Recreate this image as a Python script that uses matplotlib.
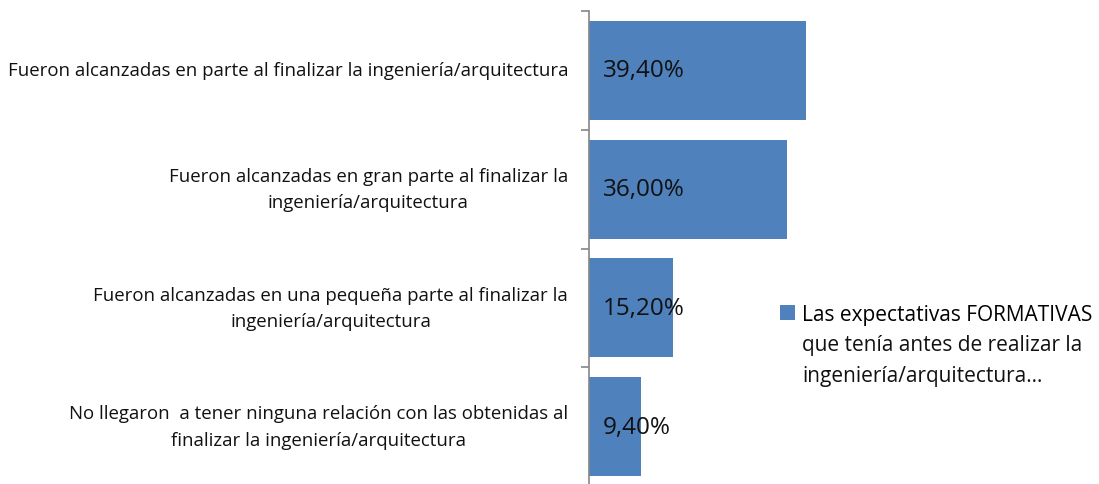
import matplotlib.pyplot as plt

# ── data ──
categorias = [
    'Fueron alcanzadas en parte al finalizar la ingeniería/arquitectura',
    'Fueron alcanzadas en gran parte al finalizar la\ningeniería/arquitectura',
    'Fueron alcanzadas en una pequeña parte al finalizar la\ningeniería/arquitectura',
    'No llegaron  a tener ninguna relación con las obtenidas al\nfinalizar la ingeniería/arquitectura',
]
valores = [39.4, 36.0, 15.2, 9.4]
etiquetas = ['39,40%', '36,00%', '15,20%', '9,40%']
serie = ['Las expectativas FORMATIVAS',
         'que tenía antes de realizar la',
         'ingeniería/arquitectura…']

plt.rcParams['font.family'] = ['Open Sans', 'DejaVu Sans']

fig = plt.figure(figsize=(10.99, 4.85), dpi=100)
ax = fig.add_axes([589 / 1099, -2 / 485, 248 / 1099, 475 / 485])

pos = list(range(len(valores)))
bars = ax.barh(pos, valores, height=0.834, color='#4F81BD', label=serie[0])
ax.set_ylim(len(valores) - 0.5, -0.5)
ax.set_xlim(0, 45)

for b, t in zip(bars, etiquetas):
    ax.text(2.5, b.get_y() + b.get_height() / 2, t, va='center', ha='left',
            fontsize=17.5, color='#111111')

# category labels (centered multi-line, right edge near axis)
ax.set_yticks([])
for p, c in zip(pos, categorias):
    ax.annotate(c, xy=(0, p), xycoords=('axes fraction', 'data'),
                xytext=(-21, 0), textcoords='offset pixels',
                ha='right', va='center', multialignment='center',
                fontsize=13.4, color='#111111', linespacing=1.62)

# boundary ticks
ax.set_yticks([-0.5, 0.5, 1.5, 2.5, 3.5], minor=True)
ax.tick_params(axis='y', which='minor', length=6, color='#868686', width=1.2)
ax.tick_params(axis='x', bottom=False, labelbottom=False)
for s in ['top', 'right', 'bottom']:
    ax.spines[s].set_visible(False)
ax.spines['left'].set_color('#868686')
ax.spines['left'].set_linewidth(1.2)

# legend: handle on first line, remaining lines below
leg = fig.legend(loc='center left', bbox_to_anchor=(772 / 1099, 1 - 315 / 485),
                 frameon=False, fontsize=15, handlelength=0.7, handleheight=0.7,
                 handletextpad=0.35, borderaxespad=0)
fig.canvas.draw()
tb = leg.get_texts()[0].get_window_extent()
x0 = tb.x0 / fig.bbox.width
for i, line in enumerate(serie[1:], start=1):
    fig.text(x0, 1 - (315 + 31 * i) / 485, line, fontsize=15,
             va='center', ha='left', color='#111111')

fig.savefig('out.png', dpi=100)
